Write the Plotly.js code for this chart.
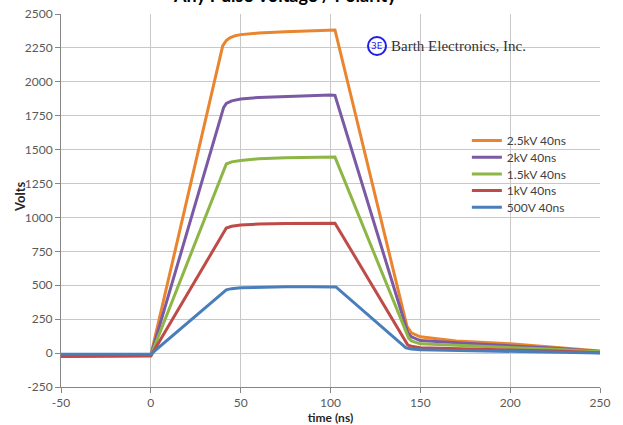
<!DOCTYPE html>
<html>
<head>
<meta charset="utf-8">
<script src="https://cdn.plot.ly/plotly-3.0.1.min.js"></script>
<style>html,body{margin:0;padding:0;background:#fff;}#chart{width:623px;height:425px;}</style>
</head>
<body>
<div id="chart"></div>
<script>
// ---- Data ----
const seriesNames = ["2.5kV 40ns", "2kV 40ns", "1.5kV 40ns", "1kV 40ns", "500V 40ns"];

const timeOrange = [-50, -25, 0, 40, 42, 44, 47, 50, 60, 75, 90, 100, 102.5, 142.5, 145, 150, 170, 200, 225, 250];
const voltsOrange = [-20, -18, -15, 2265, 2305, 2325, 2340, 2348, 2360, 2370, 2378, 2385, 2382, 200, 150, 120, 90, 68, 40, 15];

const timePurple = [-50, -25, 0, 40.5, 42, 45, 50, 60, 75, 90, 100, 102.5, 143, 145, 150, 175, 200, 225, 250];
const voltsPurple = [-20, -20, -18, 1810, 1840, 1860, 1873, 1885, 1893, 1900, 1903, 1900, 150, 120, 92, 72, 55, 35, 12];

const timeGreen = [-50, -25, 0, 42, 45, 50, 60, 75, 90, 100, 102.5, 143.5, 145, 150, 175, 200, 225, 250];
const voltsGreen = [-20, -20, -18, 1394, 1410, 1420, 1432, 1440, 1444, 1447, 1445, 110, 90, 68, 55, 42, 28, 10];

const timeRed = [-50, -25, 0, 42, 45, 50, 60, 75, 90, 100, 102.5, 143, 145, 150, 175, 200, 225, 250];
const voltsRed = [-25, -25, -22, 922, 935, 944, 951, 955, 958, 960, 958, 60, 50, 40, 32, 25, 15, 3];

const timeBlue = [-50, -25, 0, 42, 45, 50, 60, 75, 90, 100, 103, 142, 145, 150, 175, 200, 225, 250];
const voltsBlue = [-8, -8, -8, 466, 475, 482, 486, 489, 490, 490, 488, 38, 30, 25, 20, 15, 8, 0];

const xTicks = [-50, 0, 50, 100, 150, 200, 250];
const yTicks = [-250, 0, 250, 500, 750, 1000, 1250, 1500, 1750, 2000, 2250, 2500];

const colors = ["#E9852F", "#7A5AA4", "#8DB646", "#BE4B48", "#4A7EBB"];
const times = [timeOrange, timePurple, timeGreen, timeRed, timeBlue];
const volts = [voltsOrange, voltsPurple, voltsGreen, voltsRed, voltsBlue];

const FONT = "Lato, 'Open Sans', sans-serif";
const legendIds = ["legend", "legend2", "legend3", "legend4", "legend5"];

const traces = seriesNames.map((n, i) => ({
  type: "scatter", mode: "lines", name: n,
  x: times[i], y: volts[i],
  line: {color: colors[i], width: 3},
  legend: legendIds[i],
  hoverinfo: "skip"
}));

const layout = {
  width: 623, height: 425,
  margin: {l: 61, r: 23, t: 14, b: 38},
  paper_bgcolor: "#fff", plot_bgcolor: "#fff",
  font: {family: FONT, size: 12, color: "#595959"},
  showlegend: true,
  xaxis: {
    range: [-50, 250], tickvals: xTicks, ticktext: xTicks.map(String),
    showgrid: true, gridcolor: "#C8C8C8", gridwidth: 1,
    showline: true, linecolor: "#868686", linewidth: 1,
    ticks: "outside", ticklen: 5, tickcolor: "#868686",
    zeroline: false,
    tickfont: {family: FONT, size: 12, color: "#595959"},
    title: {text: "<b>time (ns)</b>", font: {family: FONT, size: 12, color: "#262626"}, standoff: 4}
  },
  yaxis: {
    range: [-250, 2500], tickvals: yTicks, ticktext: yTicks.map(String),
    showgrid: true, gridcolor: "#C8C8C8", gridwidth: 1,
    showline: true, linecolor: "#868686", linewidth: 1,
    ticks: "outside", ticklen: 5, tickcolor: "#868686",
    zeroline: false,
    tickfont: {family: FONT, size: 12, color: "#595959"}
  },
  shapes: [
    {type: "rect", xref: "paper", yref: "paper", layer: "between",
     x0: (355 - 61) / 539, x1: (537 - 61) / 539, y0: (387 - 58) / 373, y1: (387 - 36) / 373,
     fillcolor: "#ffffff", line: {width: 0}},
    {type: "circle", xref: "paper", yref: "paper", layer: "above",
     x0: (368 - 61) / 539, x1: (386 - 61) / 539, y0: (387 - 55) / 373, y1: (387 - 37) / 373,
     fillcolor: "rgba(0,0,0,0)", line: {color: "#1E1EE6", width: 2}}
  ],
  annotations: [
    {text: "<b>Any Pulse Voltage / Polarity</b>", xref: "paper", yref: "paper",
     x: (285 - 61) / 539, y: (387 + 5) / 373, xanchor: "center", yanchor: "middle",
     showarrow: false, font: {family: FONT, size: 18, color: "#000"}},
    {text: "<b>Volts</b>", textangle: -90, xref: "paper", yref: "paper",
     x: (20 - 61) / 539, y: (387 - 197) / 373, xanchor: "center", yanchor: "middle",
     showarrow: false, font: {family: FONT, size: 13, color: "#262626"}},
    {text: "3E", xref: "paper", yref: "paper",
     x: (377 - 61) / 539, y: (387 - 46) / 373, xanchor: "center", yanchor: "middle",
     showarrow: false, font: {family: "'DejaVu Sans', sans-serif", size: 9, color: "#1E1EE6"}},
    {text: "Barth Electronics, Inc.", xref: "paper", yref: "paper",
     x: (389 - 61) / 539, y: (387 - 46) / 373, xanchor: "left", yanchor: "middle",
     showarrow: false, font: {family: "'Liberation Serif', 'DejaVu Serif', serif", size: 15, color: "#333333"}}
  ]
};

legendIds.forEach((id, i) => {
  layout[id] = {
    x: 0.753, y: (387 - (126 + 16.7 * i)) / 373, xanchor: "left", yanchor: "top",
    bgcolor: "rgba(0,0,0,0)", borderwidth: 0,
    font: {family: FONT, size: 12, color: "#404040"},
    itemwidth: 30
  };
});

Plotly.newPlot("chart", traces, layout, {displayModeBar: false, staticPlot: true});
</script>
</body>
</html>
